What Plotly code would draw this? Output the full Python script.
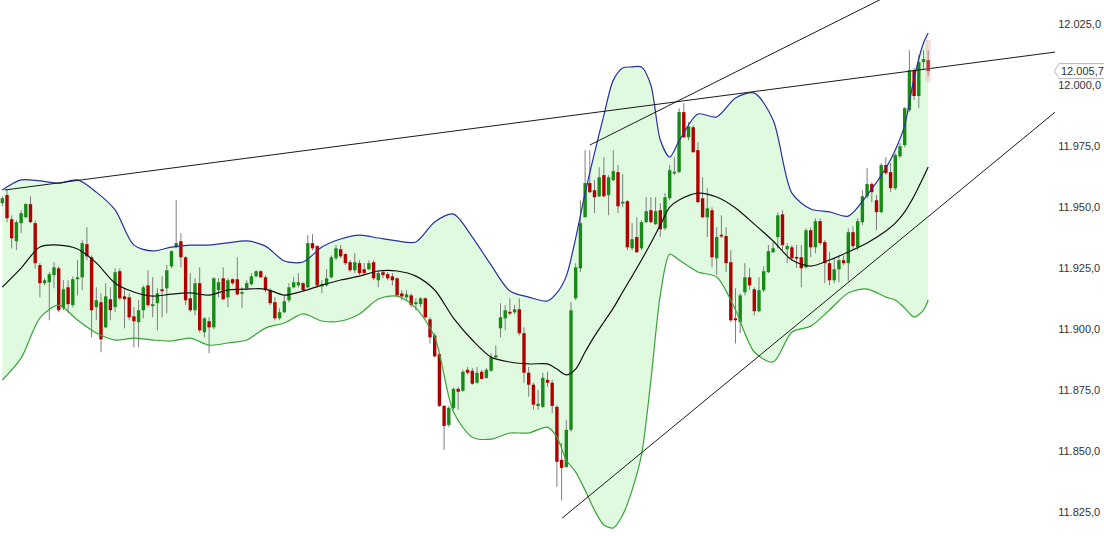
import plotly.graph_objects as go

# ---------------- candle data (price points) ----------------
opens = [11951.6, 11954.9, 11945.0, 11936.0, 11943.4, 11945.8, 11951.2, 11943.4, 11926.2, 11918.8,
         11919.2, 11922.1, 11924.9, 11908.5, 11917.1, 11909.8, 11920.4, 11921.2, 11934.8, 11929.4,
         11909.0, 11911.0, 11900.7, 11912.2, 11909.0, 11923.7, 11913.4, 11913.0, 11905.2, 11902.8,
         11907.7, 11917.9, 11909.4, 11910.6, 11916.3, 11916.7, 11925.7, 11933.5, 11936.0, 11929.4,
         11912.6, 11907.7, 11918.8, 11898.7, 11903.2, 11900.7, 11915.9, 11920.8, 11913.0, 11920.4,
         11920.4, 11914.6, 11916.7, 11918.4, 11921.6, 11923.7, 11921.2, 11915.9, 11911.0, 11904.4,
         11906.9, 11911.8, 11917.1, 11917.9, 11918.8, 11917.1, 11935.2, 11934.0, 11917.5, 11917.9,
         11921.2, 11929.0, 11932.7, 11930.7, 11927.4, 11924.1, 11927.0, 11924.5, 11924.5, 11927.4,
         11920.0, 11923.3, 11922.5, 11921.6, 11920.8, 11914.6, 11913.0, 11913.8, 11910.2, 11910.2,
         11912.6, 11904.0, 11897.4, 11889.7, 11868.5, 11860.7, 11867.7, 11875.5, 11874.7, 11883.3,
         11882.9, 11878.0, 11882.5, 11880.0, 11882.9, 11888.4, 11900.3, 11904.4, 11906.9, 11906.9,
         11908.1, 11898.3, 11882.1, 11877.2, 11868.5, 11868.1, 11879.2, 11878.0, 11868.1, 11846.4,
         11843.5, 11858.7, 11912.6, 11924.9, 11945.8, 11959.8, 11956.9, 11954.4, 11963.1, 11954.9,
         11961.0, 11964.3, 11951.6, 11952.4, 11933.1, 11937.7, 11933.1, 11943.8, 11948.7, 11943.0,
         11948.7, 11941.3, 11953.6, 11963.9, 11964.3, 11988.9, 11978.6, 11982.7, 11973.3, 11953.6,
         11945.8, 11948.7, 11929.0, 11938.5, 11938.1, 11927.4, 11904.4, 11902.8, 11915.1, 11921.2,
         11916.3, 11907.3, 11915.9, 11923.3, 11931.5, 11937.7, 11947.0, 11932.7, 11933.5, 11929.4,
         11929.4, 11925.3, 11940.5, 11933.5, 11944.2, 11935.6, 11927.0, 11920.0, 11924.5, 11928.2,
         11927.0, 11939.7, 11933.5, 11943.8, 11954.4, 11959.4, 11952.8, 11947.9, 11967.2, 11964.3,
         11957.7, 11970.8, 11975.4, 11989.7, 12006.1, 11995.5, 12009.4, 12010.2]
highs = [11954.4, 11956.9, 11946.6, 11944.6, 11948.7, 11951.6, 11954.4, 11944.6, 11927.0, 11920.8,
         11923.3, 11927.4, 11925.7, 11920.0, 11920.0, 11921.6, 11928.2, 11936.4, 11941.7, 11930.2,
         11917.1, 11914.6, 11918.8, 11917.1, 11924.9, 11924.9, 11916.7, 11914.6, 11909.0, 11911.8,
         11917.9, 11924.1, 11921.2, 11916.7, 11921.6, 11926.2, 11932.3, 11952.8, 11939.3, 11929.8,
         11922.9, 11920.8, 11925.3, 11904.8, 11904.8, 11921.2, 11920.8, 11925.3, 11920.8, 11920.8,
         11929.4, 11917.1, 11920.0, 11922.9, 11924.1, 11924.1, 11922.1, 11916.7, 11913.0, 11908.5,
         11913.8, 11918.8, 11921.2, 11922.9, 11919.2, 11938.5, 11938.9, 11934.4, 11920.0, 11924.5,
         11930.2, 11934.4, 11934.4, 11931.1, 11928.2, 11931.1, 11928.2, 11927.0, 11928.2, 11928.2,
         11924.1, 11924.1, 11923.3, 11922.9, 11921.2, 11915.9, 11915.9, 11914.6, 11912.6, 11913.0,
         11913.0, 11904.8, 11898.3, 11890.1, 11868.9, 11868.5, 11875.9, 11876.3, 11883.3, 11884.5,
         11884.1, 11884.5, 11883.3, 11884.1, 11890.1, 11893.3, 11910.6, 11909.8, 11912.6, 11909.8,
         11912.6, 11900.7, 11884.5, 11878.0, 11875.1, 11882.1, 11882.5, 11879.2, 11868.9, 11853.3,
         11862.8, 11911.0, 11927.0, 11952.8, 11973.3, 11973.3, 11961.0, 11966.3, 11970.4, 11963.1,
         11973.3, 11967.2, 11963.5, 11952.8, 11943.4, 11945.8, 11944.6, 11954.0, 11954.0, 11954.0,
         11951.6, 11955.7, 11967.2, 11970.4, 11990.5, 11992.6, 11984.8, 11983.5, 11976.6, 11962.2,
         11957.7, 11949.9, 11941.7, 11946.6, 11941.7, 11932.3, 11916.7, 11914.6, 11927.0, 11924.9,
         11917.1, 11921.2, 11925.7, 11934.4, 11935.6, 11947.9, 11948.7, 11935.2, 11934.4, 11934.4,
         11934.4, 11941.3, 11941.7, 11945.4, 11945.4, 11936.4, 11931.5, 11929.0, 11930.2, 11930.2,
         11941.3, 11942.1, 11945.4, 11956.9, 11965.9, 11960.2, 11954.9, 11968.0, 11970.4, 11968.0,
         11972.1, 11976.2, 11990.9, 12014.3, 12006.9, 12012.3, 12014.3, 12014.3]
lows = [11950.3, 11943.8, 11933.0, 11932.3, 11939.3, 11945.4, 11943.4, 11924.9, 11913.0, 11918.0,
        11903.6, 11916.7, 11906.9, 11907.7, 11906.5, 11908.9, 11913.8, 11915.9, 11928.2, 11896.6,
        11903.6, 11890.5, 11900.3, 11903.6, 11906.9, 11911.8, 11900.3, 11903.6, 11892.5, 11892.5,
        11904.4, 11909.0, 11904.8, 11899.5, 11904.8, 11906.5, 11924.9, 11933.1, 11925.3, 11909.8,
        11906.9, 11905.6, 11898.7, 11896.6, 11890.1, 11899.9, 11913.0, 11911.8, 11909.0, 11918.0,
        11913.8, 11908.5, 11915.9, 11917.9, 11921.2, 11920.8, 11915.1, 11909.8, 11903.6, 11903.6,
        11906.5, 11911.0, 11916.7, 11917.1, 11915.1, 11916.7, 11932.3, 11917.1, 11914.6, 11917.5,
        11920.8, 11928.2, 11929.0, 11926.2, 11923.3, 11922.9, 11922.1, 11922.1, 11924.1, 11920.0,
        11917.1, 11920.8, 11920.0, 11917.9, 11913.0, 11911.8, 11911.8, 11909.0, 11907.7, 11909.0,
        11904.4, 11894.1, 11888.4, 11868.1, 11850.5, 11859.9, 11866.9, 11866.9, 11874.3, 11881.3,
        11877.2, 11877.6, 11879.2, 11879.6, 11882.5, 11888.0, 11896.6, 11899.5, 11905.6, 11906.1,
        11897.4, 11878.0, 11872.3, 11866.9, 11866.9, 11867.7, 11876.3, 11865.5, 11835.3, 11829.8,
        11843.1, 11857.9, 11911.8, 11923.3, 11945.8, 11955.7, 11947.5, 11954.0, 11954.0, 11946.6,
        11960.6, 11947.5, 11949.9, 11932.3, 11932.3, 11931.1, 11932.3, 11943.4, 11943.4, 11942.6,
        11937.7, 11940.5, 11952.8, 11963.1, 11963.9, 11978.2, 11977.4, 11972.1, 11951.6, 11945.4,
        11937.7, 11925.3, 11922.1, 11937.2, 11923.3, 11902.8, 11894.1, 11898.3, 11913.8, 11915.9,
        11905.6, 11906.9, 11915.1, 11922.9, 11931.1, 11933.1, 11932.3, 11927.0, 11928.2, 11925.0,
        11917.1, 11924.9, 11929.4, 11931.1, 11934.4, 11918.8, 11917.9, 11918.8, 11919.2, 11926.2,
        11919.6, 11932.3, 11932.3, 11942.6, 11953.6, 11952.0, 11940.5, 11947.5, 11963.1, 11956.1,
        11956.9, 11970.0, 11974.5, 11988.9, 11993.9, 11990.5, 12006.1, 12003.5]
closes = [11953.6, 11945.4, 11937.2, 11943.8, 11947.5, 11951.2, 11943.8, 11927.0, 11918.8, 11920.0,
          11922.5, 11925.3, 11907.7, 11916.3, 11910.2, 11920.4, 11921.2, 11935.2, 11929.8, 11907.7,
          11911.8, 11895.8, 11913.4, 11907.7, 11923.3, 11912.6, 11912.2, 11904.8, 11903.2, 11907.7,
          11917.1, 11909.8, 11910.2, 11914.6, 11915.5, 11924.1, 11931.9, 11935.2, 11929.4, 11911.8,
          11907.7, 11918.8, 11899.5, 11904.4, 11900.7, 11920.8, 11919.2, 11912.2, 11920.0, 11918.8,
          11914.2, 11915.0, 11918.8, 11921.6, 11923.7, 11921.2, 11915.9, 11910.6, 11904.4, 11906.9,
          11911.4, 11917.1, 11919.2, 11919.2, 11915.9, 11935.2, 11933.1, 11917.9, 11918.4, 11920.8,
          11929.4, 11933.1, 11929.8, 11927.0, 11924.1, 11927.4, 11922.9, 11922.9, 11927.0, 11920.8,
          11922.9, 11922.1, 11920.8, 11920.0, 11913.8, 11913.4, 11914.2, 11909.8, 11911.0, 11912.6,
          11904.8, 11896.6, 11888.8, 11868.5, 11860.3, 11867.7, 11875.5, 11874.3, 11882.5, 11882.1,
          11877.6, 11882.1, 11879.6, 11883.3, 11888.4, 11889.2, 11904.8, 11907.7, 11906.5, 11908.1,
          11898.3, 11882.1, 11877.2, 11869.0, 11869.4, 11880.0, 11878.0, 11868.5, 11845.6, 11843.1,
          11858.7, 11907.7, 11925.3, 11943.4, 11959.8, 11956.1, 11954.0, 11962.2, 11954.4, 11962.2,
          11964.7, 11950.3, 11952.0, 11933.5, 11936.8, 11931.5, 11943.8, 11948.3, 11943.8, 11948.3,
          11940.9, 11954.0, 11965.1, 11964.3, 11988.9, 11978.6, 11983.1, 11972.5, 11952.0, 11945.8,
          11949.5, 11929.4, 11937.7, 11938.1, 11927.0, 11903.6, 11903.6, 11913.8, 11921.2, 11917.9,
          11907.3, 11915.9, 11923.7, 11931.9, 11933.1, 11946.6, 11934.4, 11934.0, 11929.0, 11929.0,
          11924.9, 11940.5, 11933.5, 11944.2, 11935.2, 11927.0, 11920.0, 11924.5, 11928.2, 11927.0,
          11939.7, 11934.0, 11944.2, 11954.4, 11959.4, 11956.1, 11947.9, 11967.2, 11963.9, 11957.7,
          11971.3, 11974.9, 11990.5, 12006.1, 11995.5, 12009.4, 12010.6, 12005.7]
last_price = 12005.7

# ---------------- Bollinger band readings ----------------
band_idx = [0, 4, 8, 12, 16, 20, 24, 28, 32, 36, 40, 44, 48, 52, 56, 60, 64, 68, 72, 76,
            80, 84, 88, 92, 96, 100, 104, 108, 112, 116, 118, 120, 122, 124, 126, 128, 130, 132, 134, 136,
            138, 140, 142, 144, 148, 152, 156, 160, 164, 168, 172, 176, 180, 184, 188, 190, 192, 194, 196, 197]
bb_upper = [11957.0, 11961.1, 11960.7, 11959.8, 11961.1, 11956.1, 11948.8, 11934.4, 11932.0, 11933.6,
            11934.4, 11934.4, 11935.3, 11936.1, 11934.0, 11927.9, 11927.5, 11933.6, 11936.9, 11938.5,
            11937.3, 11936.1, 11935.7, 11943.9, 11947.1, 11937.7, 11926.2, 11915.6, 11913.1, 11911.5,
            11914.8, 11921.7, 11937.3, 11955.7, 11972.1, 11987.7, 12002.0, 12007.0, 12007.4, 12007.4,
            11999.9, 11977.5, 11970.5, 11977.1, 11988.1, 11986.9, 11994.7, 11996.7, 11985.7, 11955.7,
            11949.2, 11948.0, 11946.3, 11954.9, 11966.0, 11973.4, 11983.6, 12002.9, 12017.2, 12021.3]
bb_middle = [11917.2, 11925.0, 11933.6, 11934.4, 11932.8, 11927.1, 11918.8, 11915.2, 11913.5, 11914.3,
             11914.8, 11913.9, 11916.0, 11916.4, 11916.4, 11913.9, 11915.6, 11918.0, 11920.1, 11921.7,
             11923.8, 11923.8, 11921.7, 11916.0, 11904.5, 11895.5, 11888.5, 11886.5, 11885.7, 11885.7,
             11883.6, 11881.2, 11883.6, 11890.6, 11897.1, 11902.9, 11908.6, 11915.2, 11921.7, 11928.3,
             11935.3, 11942.6, 11950.0, 11952.9, 11955.7, 11954.1, 11949.6, 11943.0, 11936.1, 11928.3,
             11925.8, 11928.3, 11931.6, 11935.3, 11940.2, 11943.4, 11948.0, 11954.5, 11962.3, 11966.4]
bb_lower = [11879.1, 11888.1, 11904.5, 11909.8, 11903.7, 11898.4, 11895.5, 11896.3, 11895.5, 11895.1,
            11896.3, 11893.4, 11894.3, 11895.5, 11900.4, 11902.5, 11906.2, 11903.3, 11903.3, 11906.2,
            11912.3, 11913.5, 11908.6, 11896.7, 11866.0, 11855.7, 11854.9, 11857.4, 11857.4, 11859.8,
            11855.7, 11846.3, 11841.4, 11834.0, 11825.8, 11819.7, 11818.5, 11823.8, 11834.0, 11848.4,
            11879.1, 11913.9, 11930.7, 11928.3, 11923.4, 11921.3, 11907.8, 11890.6, 11886.5, 11898.8,
            11901.2, 11907.8, 11914.8, 11916.4, 11913.1, 11911.9, 11908.6, 11904.9, 11907.8, 11911.9]

# ---------------- trend lines (candle index, price) ----------------
trend_resistance_x = [0.57, 224.0]
trend_resistance_y = [11957.0, 12013.5]
trend_channel_x = [125.0, 192.0]
trend_channel_y = [11975.4, 12040.0]
trend_support_x = [119.1, 224.0]
trend_support_y = [11822.5, 11988.9]

# ---------------- styles ----------------
GREEN = '#178a17'
RED = '#b00000'
WICK = '#7d7d7d'
FILL = 'rgb(224,250,224)'
UPPER_C = '#2a2f9c'
LOWER_C = '#3aa23a'
MID_C = '#111111'
FONT = 'Liberation Sans, Arial, sans-serif'
BODY_PX = 3.4
MIN_BODY = 0.7

idx = list(range(len(opens)))
Y0, Y1 = 11815.2, 12034.84
X0, X1 = -0.49, 223.98

fig = go.Figure()

# band fill
fig.add_trace(go.Scatter(x=band_idx, y=bb_upper, mode='lines', line=dict(width=0, shape='spline', smoothing=0.8),
                         hoverinfo='skip', showlegend=False))
fig.add_trace(go.Scatter(x=band_idx, y=bb_lower, mode='lines', line=dict(width=0, shape='spline', smoothing=0.8),
                         fill='tonexty', fillcolor=FILL, hoverinfo='skip', showlegend=False))

# wicks
wx, wy = [], []
for i in idx:
    wx += [i, i, None]
    wy += [lows[i], highs[i], None]
fig.add_trace(go.Scatter(x=wx, y=wy, mode='lines', line=dict(color=WICK, width=1),
                         hoverinfo='skip', showlegend=False))

# bodies (drawn as thick segments so they sit above the band fill)
for up, col in [(True, GREEN), (False, RED)]:
    bx, by = [], []
    for i, (o, c) in enumerate(zip(opens, closes)):
        if (c >= o) != up:
            continue
        lo, hi = min(o, c), max(o, c)
        if hi - lo < MIN_BODY:
            mid = (hi + lo) / 2
            lo, hi = mid - MIN_BODY / 2, mid + MIN_BODY / 2
        bx += [i, i, None]
        by += [lo, hi, None]
    fig.add_trace(go.Scatter(x=bx, y=by, mode='lines', line=dict(color=col, width=BODY_PX),
                             hoverinfo='skip', showlegend=False))

# band lines on top
fig.add_trace(go.Scatter(x=band_idx, y=bb_upper, mode='lines', line=dict(color=UPPER_C, width=1.2, shape='spline', smoothing=0.8),
                         hoverinfo='skip', showlegend=False))
fig.add_trace(go.Scatter(x=band_idx, y=bb_lower, mode='lines', line=dict(color=LOWER_C, width=1.2, shape='spline', smoothing=0.8),
                         hoverinfo='skip', showlegend=False))
fig.add_trace(go.Scatter(x=band_idx, y=bb_middle, mode='lines', line=dict(color=MID_C, width=1.2, shape='spline', smoothing=0.8),
                         hoverinfo='skip', showlegend=False))

# trend lines
for tx, ty in [(trend_resistance_x, trend_resistance_y), (trend_channel_x, trend_channel_y),
               (trend_support_x, trend_support_y)]:
    fig.add_trace(go.Scatter(x=tx, y=ty, mode='lines', line=dict(color='#1a1a1a', width=1),
                             hoverinfo='skip', showlegend=False))

# highlight of last candle
last = idx[-1]
fig.add_shape(type='rect', x0=last - 0.55, x1=last + 0.55, y0=12001.2, y1=12018.4,
              fillcolor='rgba(235,160,160,0.35)', line=dict(width=0), layer='above')

# current price label
plot_w = 1104 - 49
py = (last_price - Y0) / (Y1 - Y0)
half = 7.5 / 536
path = (f"M {1054.5/plot_w},{py} L {1059/plot_w},{py+half} L {1.06},{py+half} "
        f"L {1.06},{py-half} L {1059/plot_w},{py-half} Z")
fig.add_shape(type='path', path=path, xref='paper', yref='paper', fillcolor='white',
              line=dict(color='#b8b8b8', width=1))
label = f"{last_price:,.1f}".replace(',', 'X').replace('.', ',').replace('X', '.')
fig.add_annotation(x=1059.5 / plot_w, y=last_price, xref='paper', yref='y', text=label, showarrow=False,
                   xanchor='left', yanchor='middle', borderpad=0,
                   font=dict(family=FONT, size=11, color='#333333'))

fig.update_layout(
    width=1104, height=536,
    margin=dict(l=0, r=49, t=0, b=0, pad=0, autoexpand=False),
    paper_bgcolor='white', plot_bgcolor='white',
    separators=',.',
    showlegend=False,
    xaxis=dict(range=[X0, X1], visible=False, fixedrange=True, automargin=False),
    yaxis=dict(range=[Y0, Y1], side='right', showgrid=False, zeroline=False, showline=False,
               automargin=False, ticks='outside', ticklen=0, tickcolor='rgba(0,0,0,0)',
               dtick=25, tick0=0, tickformat=',.1f',
               tickfont=dict(family=FONT, size=11, color='#333333'), fixedrange=True),
    font=dict(family=FONT),
)

fig.write_html("out.html", config={'displayModeBar': False},
               post_script="document.body.style.margin='0';document.body.style.overflow='hidden';")
